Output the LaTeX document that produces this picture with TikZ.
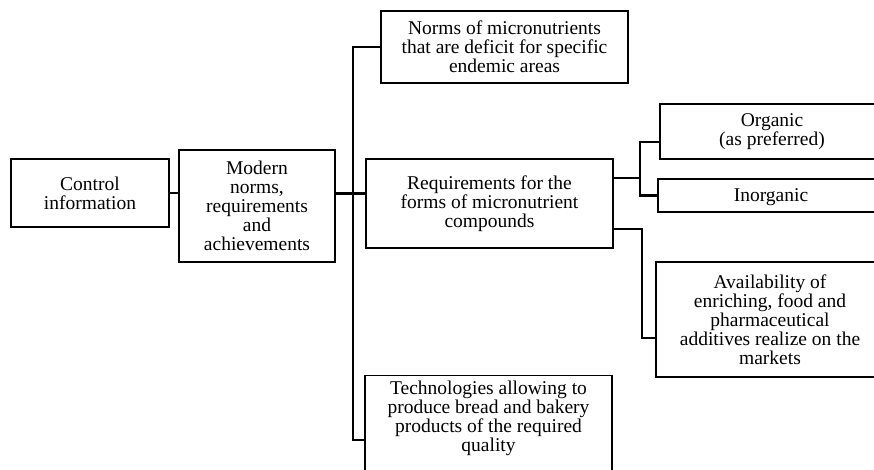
\documentclass[tikz,border=0pt]{standalone}
\usepackage{fontspec}
\setmainfont{Liberation Serif}

\begin{document}
\begin{tikzpicture}[x=1pt, y=-1pt,
    infobox/.style={draw, line width=1.3pt, align=center, inner sep=0pt,
        font=\fontsize{19.5}{19}\selectfont},
    link/.style={line width=2.6pt}]
    %--------------------%
    % Parameters
    %--------------------%
    \def\colw{247}
    \def\sidew{226}

    \useasboundingbox (0,0) rectangle (874,470);
    \clip (0,0) rectangle (874,470);

    %--------------------%
    % Left Column
    %--------------------%
    \node[infobox, minimum width=158, minimum height=68] (ctrl) at (90,193) {Control\\information};
    \node[infobox, minimum width=156, minimum height=112] (modern) at (257,206) {Modern\\norms,\\requirements\\and\\achievements};

    %--------------------%
    % Middle Column
    %--------------------%
    \node[infobox, minimum width=\colw, minimum height=72] (norms) at (504.5,47) {Norms of micronutrients\\that are deficit for specific\\endemic areas};
    \node[infobox, minimum width=\colw, minimum height=89] (req) at (489.5,203.5) {Requirements for the\\forms of micronutrient\\compounds};
    \node[infobox, minimum width=\colw, anchor=north, inner ysep=5pt, text depth=30pt] (tech) at (488.5,375) {Technologies allowing to\\produce bread and bakery\\products of the required\\quality};

    %--------------------%
    % Right Column
    %--------------------%
    \node[infobox, minimum width=224, minimum height=55] (organic) at (772,131.5) {Organic\\(as preferred)};
    \node[infobox, minimum width=\sidew, minimum height=33, text depth=0pt] (inorganic) at (771,195.5) {Inorganic};
    \node[infobox, minimum width=228, minimum height=115] (avail) at (770,319.5) {Availability of\\enriching, food and\\pharmaceutical\\additives realize on the\\markets};

    %--------------------%
    % Connections
    %--------------------%
    \coordinate (trunk) at (353,193.5);
    \coordinate (forkA) at (640,178);
    \coordinate (forkB) at (642,229);

    % Left to middle
    \draw[link] (ctrl.east) -- (modern.west |- ctrl.east);
    \draw[link] (modern.east |- trunk) -- (req.west |- trunk);
    \draw[link] (norms.west) -| (trunk) |- ([yshift=-65pt]tech.north west);

    % Middle to right
    \draw[link] ([yshift=25.5pt]req.east) -- (forkA);
    \draw[link] ([yshift=-10.5pt]organic.west) -| (forkA) |- (inorganic.west);
    \draw[link] ([yshift=-25.5pt]req.east) -- (forkB) |- ([yshift=-18.5pt]avail.west);

\end{tikzpicture}
\end{document}
